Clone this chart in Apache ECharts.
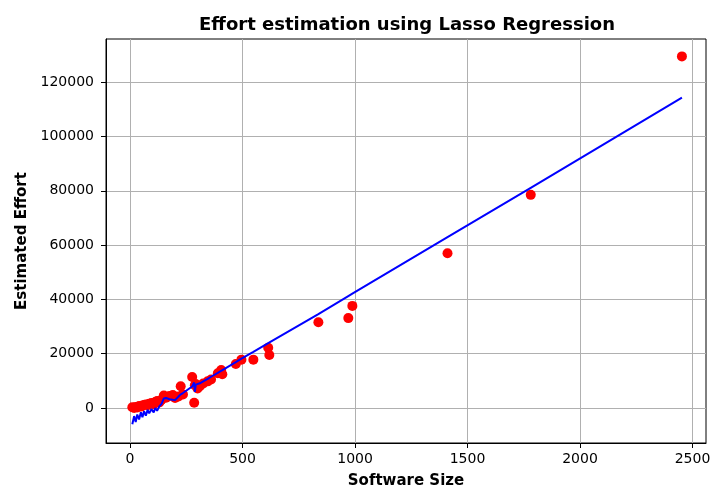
<!DOCTYPE html>
<html>
<head>
<meta charset="utf-8">
<script src="https://cdn.jsdelivr.net/npm/echarts@6/dist/echarts.min.js"></script>
<style>
  html, body { margin: 0; padding: 0; background: #fff; }
  #chart { width: 712px; height: 486px; }
</style>
</head>
<body>
<div id="chart"></div>
<script>
// software size of each project (sorted)
var sizes = [10, 18, 25, 32, 40, 48, 55, 62, 70, 78, 85, 95, 105, 112, 120, 130, 140, 150, 160, 175,
    190, 200, 215, 225, 235, 276, 285, 288, 292, 300, 310, 325, 345, 360, 390, 405, 410, 470, 495, 548,
    614, 619, 837, 970, 988, 1411, 1781, 2453];
// actual effort (red dots)
var actualEffort = [300, 0, 400, 200, 700, 500, 900, 1100, 1300, 1000, 1600, 1800, 1400, 2200, 2600, 2000, 3000, 4600, 3800, 4400,
    4800, 3700, 4200, 8000, 5000, 11400, 1900, 8400, 8800, 7200, 8000, 9000, 9800, 10500, 12800, 14000, 12400, 16200, 17800, 17800,
    22200, 19500, 31600, 33100, 37600, 57000, 78500, 129500];
// lasso prediction (blue line)
var predictedEffort = [-6000, -3000, -5200, -2400, -4200, -1600, -3400, -1200, -2800, -700, -2000, -400, -1600, 0, -1000, 600, 1500, 3500, 3700, 3200,
    3000, 2900, 4200, 5000, 5500, 7900, 9400, 5900, 8600, 8600, 9100, 9800, 10700, 11500, 12900, 13700, 14000, 16900, 18200, 20700,
    23900, 24100, 34600, 41200, 42100, 62900, 81100, 114300];
var xTicks = [0, 500, 1000, 1500, 2000, 2500];
var yTicks = [0, 20000, 40000, 60000, 80000, 100000, 120000];

var actualPts = sizes.map(function(s, i) { return [s, actualEffort[i]]; });
var predPts = sizes.map(function(s, i) { return [s, predictedEffort[i]]; });

var font = "DejaVu Sans";
var myChart = echarts.init(document.getElementById("chart"));
var option = {
    animation: false,
    title: {
        text: "Effort estimation using Lasso Regression",
        left: 402,
        top: 11,
        textAlign: "center",
        textStyle: { fontFamily: font, fontSize: 18, fontWeight: "bold", color: "#000" }
    },
    grid: {
        left: 106, right: 6, top: 39, bottom: 43,
        outerBoundsMode: "none",
        containLabel: false,
        show: true, borderColor: "#000", borderWidth: 1
    },
    xAxis: {
        type: "value",
        min: -107,
        max: 2560,
        name: "Software Size",
        nameLocation: "middle",
        nameGap: 31,
        nameTextStyle: { fontFamily: font, fontSize: 15, fontWeight: "bold", color: "#000" },
        axisLine: { show: true, onZero: false, lineStyle: { color: "#000" } },
        axisTick: { show: true, customValues: xTicks, length: 5, lineStyle: { color: "#000" } },
        axisLabel: {
            customValues: xTicks, fontFamily: font, fontSize: 14, color: "#000", margin: 9,
            formatter: function(v) { return String(v); }
        },
        splitLine: { show: true, lineStyle: { color: "#b0b0b0", width: 1 } }
    },
    yAxis: {
        type: "value",
        min: -12900,
        max: 135900,
        name: "Estimated Effort",
        nameLocation: "middle",
        nameGap: 76,
        nameTextStyle: { fontFamily: font, fontSize: 15, fontWeight: "bold", color: "#000" },
        axisLine: { show: true, onZero: false, lineStyle: { color: "#000" } },
        axisTick: { show: true, customValues: yTicks, length: 5, lineStyle: { color: "#000" } },
        axisLabel: {
            customValues: yTicks, fontFamily: font, fontSize: 14, color: "#000", margin: 12,
            formatter: function(v) { return String(v); }
        },
        splitLine: { show: true, lineStyle: { color: "#b0b0b0", width: 1 } }
    },
    series: [{
        name: "Actual",
        type: "scatter",
        data: actualPts,
        symbolSize: 10,
        itemStyle: { color: "#ff0000", opacity: 1 },
        z: 2
    }, {
        name: "Lasso",
        type: "line",
        data: predPts,
        showSymbol: false,
        lineStyle: { color: "#0000ff", width: 2 },
        z: 3
    }]
};
myChart.setOption(option);
</script>
</body>
</html>
